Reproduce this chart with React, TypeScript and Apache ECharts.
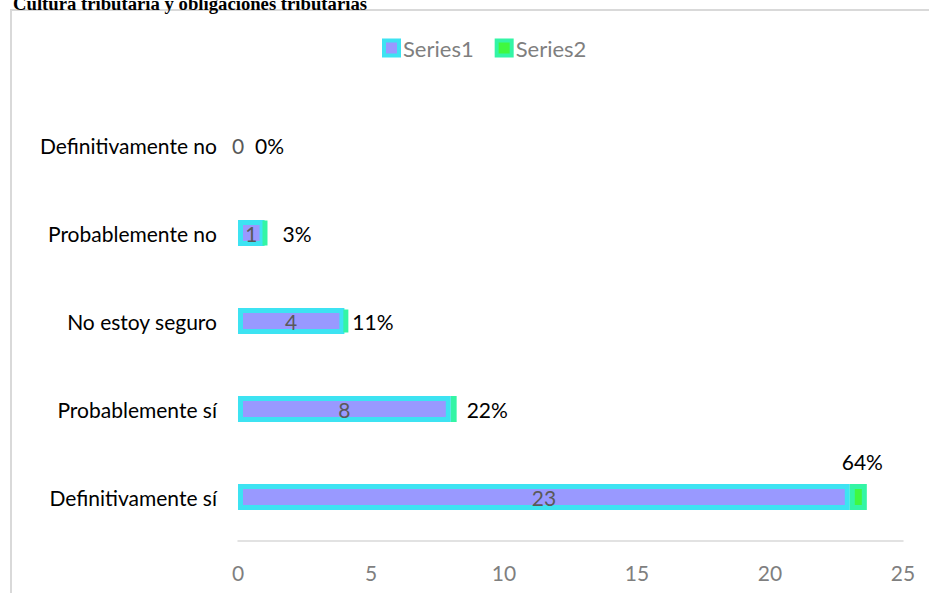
import React, { useEffect, useRef } from "react";
import * as echarts from "echarts";

const categories = ["Definitivamente sí", "Probablemente sí", "No estoy seguro", "Probablemente no", "Definitivamente no"];
const series1Values = [23, 8, 4, 1, 0];
const series2Values = [0.64, 0.22, 0.11, 0.03, 0];
const series2LabelDistance = [0, 10, 4, 15, 17];
const xTicks = { min: 0, max: 25, interval: 5 };
const titleText = "Cultura tributaria y obligaciones tributarias";

const FONT = "Lato, 'Noto Sans', sans-serif";
const FS = 21;

export default function App() {
  const ref = useRef<HTMLDivElement>(null);
  useEffect(() => {
    if (!ref.current) return;
    const chart = echarts.init(ref.current, undefined, { renderer: "svg" });
    const s1data = series1Values.map((v) =>
      v === 0 ? { value: v, itemStyle: { borderWidth: 0 } } : { value: v }
    );
    const s2data = series2Values.map((v, i) => {
      if (i === 0) {
        return {
          value: v,
          label: { position: "top", distance: 12, offset: [4, 0] },
        };
      }
      const item: any = { value: v, label: { position: "right", distance: series2LabelDistance[i] } };
      if (v === 0) item.itemStyle = { borderWidth: 0 };
      return item;
    });
    chart.setOption({
      animation: false,
      textStyle: { fontFamily: FONT },
      graphic: [
        {
          type: "rect",
          shape: { x: 11, y: 10, width: 940, height: 620 },
          style: { fill: "none", stroke: "#d9d9d9", lineWidth: 2 },
          silent: true,
          z: -10,
        },
        {
          type: "text",
          x: 13,
          y: 3,
          style: {
            text: titleText,
            font: "bold 18.7px 'Liberation Serif', 'Times New Roman', serif",
            fill: "#000",
            verticalAlign: "middle",
            align: "left",
          },
        },
      ],
      legend: {
        left: 382,
        top: 37,
        padding: 0,
        itemWidth: 15,
        itemHeight: 15,
        itemGap: 21,
        icon: "rect",
        textStyle: { color: "#7f7f7f", fontSize: 22, fontFamily: FONT, padding: [0, 0, 0, -1] },
        itemStyle: { borderWidth: 4 },
      },
      grid: { left: 238, right: 26, top: 101, bottom: 52, containLabel: false },
      xAxis: {
        type: "value",
        min: xTicks.min,
        max: xTicks.max,
        interval: xTicks.interval,
        axisLine: { show: true, lineStyle: { color: "#d9d9d9", width: 1.5 } },
        axisTick: { show: false },
        splitLine: { show: false },
        axisLabel: { color: "#7f7f7f", fontSize: FS, margin: 21, fontFamily: FONT },
      },
      yAxis: {
        type: "category",
        data: categories,
        axisLine: { show: false },
        axisTick: { show: false },
        axisLabel: { color: "#000", fontSize: FS, margin: 21, fontFamily: FONT },
      },
      series: [
        {
          name: "Series1",
          type: "bar",
          stack: "total",
          barWidth: 26,
          data: s1data,
          itemStyle: { color: "#9999ff", borderColor: "#3de3f2", borderWidth: 5 },
          label: {
            show: true,
            position: "inside",
            color: "#595959",
            fontSize: FS,
            fontFamily: FONT,
          },
        },
        {
          name: "Series2",
          type: "bar",
          stack: "total",
          barWidth: 26,
          data: s2data,
          itemStyle: { color: "#40f840", borderColor: "#33f5a5", borderWidth: 5 },
          label: {
            show: true,
            position: "right",
            color: "#000",
            fontSize: FS,
            fontFamily: FONT,
            formatter: (p: any) => Math.round(p.value * 100) + "%",
          },
        },
      ],
    });
    return () => chart.dispose();
  }, []);
  return (
    <div
      ref={ref}
      style={{ position: "fixed", left: 0, top: 0, width: 929, height: 593, background: "#fff" }}
    />
  );
}
